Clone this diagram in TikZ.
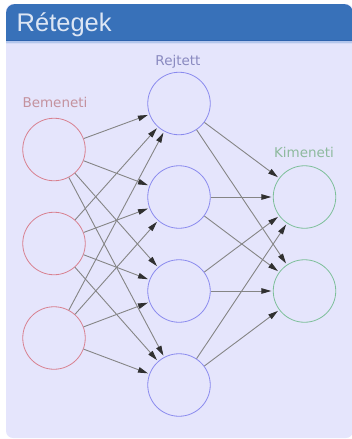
\documentclass[tikz,border=0pt]{standalone}
\usepackage{fontspec}
\setmainfont{DejaVu Sans}
\newfontfamily\headfont{Liberation Sans}
\usetikzlibrary{arrows.meta}

\definecolor{panelbg}{HTML}{E5E5FC}
\definecolor{headblue}{HTML}{3871B9}
\definecolor{headline}{HTML}{2E63AE}
\definecolor{headglow}{HTML}{B4C6EC}
\definecolor{headfade}{HTML}{D6DCF7}
\definecolor{headtext}{HTML}{DDE6F4}
\definecolor{incol}{HTML}{D8808F}
\definecolor{hidcol}{HTML}{8A8AEE}
\definecolor{outcol}{HTML}{7DBF99}
\definecolor{inlab}{HTML}{C4929E}
\definecolor{hidlab}{HTML}{8A8AC0}
\definecolor{outlab}{HTML}{8EBA9E}
\definecolor{wire}{HTML}{858585}
\definecolor{tipcol}{HTML}{303030}

\tikzset{
  neuron/.style={circle, draw, line width=0.8pt, inner sep=0pt, minimum size=62.5pt},
  inneuron/.style={neuron, draw=incol},
  hidneuron/.style={neuron, draw=hidcol},
  outneuron/.style={neuron, draw=outcol},
  layerlabel/.style={anchor=base, font=\fontsize{13.5}{15}\selectfont, inner sep=0pt},
  link/.style={draw=wire, line width=0.9pt, shorten >=1.5pt,
    -{Triangle[length=10pt, width=5.5pt, color=tipcol]}},
}

\begin{document}
\begin{tikzpicture}[x=1pt, y=-1pt]
  \useasboundingbox (0,0) rectangle (352,439);

  % panel body and title bar
  \fill[panelbg, rounded corners=7pt] (6,4) rectangle (353,438);
  \fill[headblue, rounded corners=9pt] (6,4) rectangle (353,30);
  \fill[headblue] (6,20) rectangle (353,40);
  \fill[headline] (6,40) rectangle (353,41);
  \fill[headglow] (6,41) rectangle (353,43);
  \fill[headfade] (6,43) rectangle (353,44);
  \node[anchor=base west, inner sep=0pt, text=headtext,
        font=\headfont\fontsize{25.5}{28}\selectfont] (title) at (16.5,31) {Rétegek};

  % neurons
  \node[inneuron] (i1) at (54,149.5) {};
  \node[inneuron] (i2) at (54,243.5) {};
  \node[inneuron] (i3) at (54,338) {};

  \node[hidneuron] (h1) at (179,103.5) {};
  \node[hidneuron] (h2) at (179,197) {};
  \node[hidneuron] (h3) at (179,291) {};
  \node[hidneuron] (h4) at (179,385) {};

  \node[outneuron] (o1) at (304.5,197) {};
  \node[outneuron] (o2) at (304.5,291) {};

  % layer labels
  \node[layerlabel, text=inlab]  (linput)  at (55,107) {Bemeneti};
  \node[layerlabel, text=hidlab] (lhidden) at (178,65) {Rejtett};
  \node[layerlabel, text=outlab] (loutput) at (304,157) {Kimeneti};

  % connections
  \foreach \a in {i1,i2,i3}
    \foreach \b in {h1,h2,h3,h4}
      \draw[link] (\a) -- (\b);
  \foreach \a in {h1,h2,h3,h4}
    \foreach \b in {o1,o2}
      \draw[link] (\a) -- (\b);
\end{tikzpicture}
\end{document}
